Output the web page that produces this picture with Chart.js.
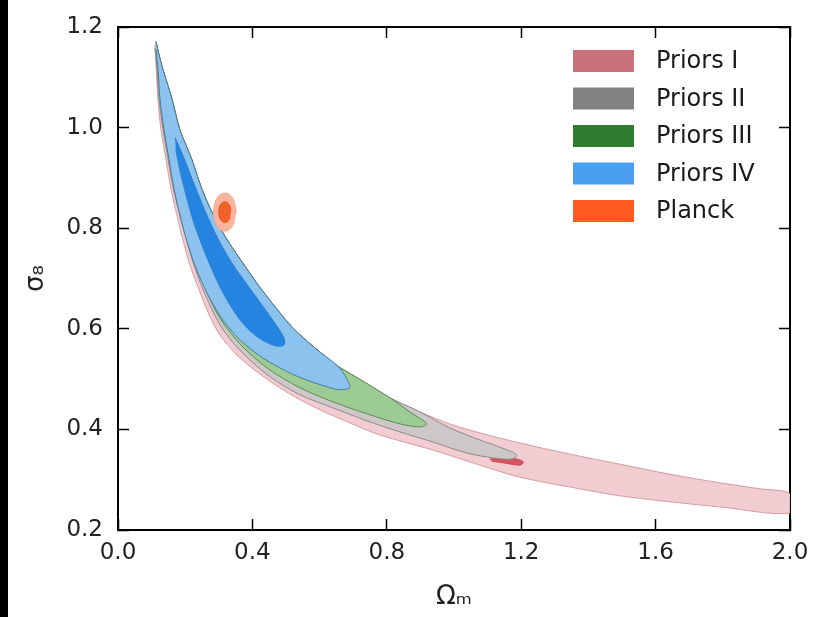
<!DOCTYPE html>
<html>
<head>
<meta charset="utf-8">
<script src="https://cdn.jsdelivr.net/npm/chart.js@4.4.1/dist/chart.umd.min.js"></script>
<style>
  html, body { margin: 0; padding: 0; background: #fff; }
  #wrap { position: relative; width: 814px; height: 617px; }
  #edge { position: absolute; left: 0; top: 0; width: 8px; height: 617px; background: #000; }
</style>
</head>
<body>
<div id="wrap">
  <canvas id="contourChart" width="814" height="617"></canvas>
  <div id="edge"></div>
</div>
<script>
// Eixos
const xTicks = [0.0, 0.4, 0.8, 1.2, 1.6, 2.0];
const xTickLabels = ["0.0", "0.4", "0.8", "1.2", "1.6", "2.0"];
const yTicks = [0.2, 0.4, 0.6, 0.8, 1.0, 1.2];
const yTickLabels = ["0.2", "0.4", "0.6", "0.8", "1.0", "1.2"];

const legendLabels = ["Priors I", "Priors II", "Priors III", "Priors IV", "Planck"];

// Contornos (Omega_m, sigma_8), cada um é um polígono fechado
const priorsIOuterX = [0.113, 0.122, 0.134, 0.161, 0.184, 0.220, 0.250, 0.283, 0.321, 0.369, 0.416, 0.467, 0.520, 0.586, 0.654, 0.726, 0.809, 0.898, 0.987, 1.077, 1.196, 1.344, 1.493, 1.642, 1.790, 1.909, 2.000,
  2.000, 1.790, 1.671, 1.493, 1.374, 1.196, 1.077, 0.937, 0.779, 0.690, 0.601, 0.526, 0.458, 0.399, 0.348, 0.303, 0.271, 0.241, 0.214, 0.193, 0.175, 0.158, 0.143, 0.128, 0.119, 0.113, 0.110];
const priorsIOuterY = [1.171, 1.145, 1.115, 1.056, 0.996, 0.936, 0.877, 0.827, 0.781, 0.733, 0.688, 0.644, 0.602, 0.562, 0.526, 0.497, 0.463, 0.435, 0.411, 0.393, 0.373, 0.351, 0.331, 0.311, 0.294, 0.282, 0.272,
  0.234, 0.246, 0.254, 0.268, 0.282, 0.305, 0.329, 0.359, 0.389, 0.413, 0.439, 0.465, 0.493, 0.522, 0.552, 0.588, 0.628, 0.678, 0.727, 0.777, 0.827, 0.877, 0.936, 0.996, 1.056, 1.129, 1.165];

const priorsIInnerX = [1.106, 1.151, 1.187, 1.207, 1.196, 1.151, 1.112];
const priorsIInnerY = [0.341, 0.343, 0.341, 0.335, 0.329, 0.333, 0.337];

const priorsIIX = [0.113, 0.122, 0.134, 0.161, 0.184, 0.220, 0.250, 0.283, 0.321, 0.369, 0.416, 0.467, 0.520, 0.586, 0.654, 0.726, 0.809, 0.898, 0.987, 1.077, 1.151, 1.187,
  1.172, 1.121, 1.038, 0.937, 0.839, 0.741, 0.639, 0.541, 0.458, 0.399, 0.351, 0.309, 0.277, 0.247, 0.223, 0.202, 0.181, 0.164, 0.149, 0.134, 0.122, 0.116, 0.110];
const priorsIIY = [1.171, 1.145, 1.115, 1.056, 0.996, 0.936, 0.877, 0.827, 0.781, 0.733, 0.688, 0.644, 0.602, 0.562, 0.526, 0.497, 0.463, 0.435, 0.403, 0.379, 0.361, 0.349,
  0.341, 0.343, 0.353, 0.375, 0.395, 0.417, 0.443, 0.469, 0.502, 0.534, 0.566, 0.602, 0.642, 0.688, 0.733, 0.781, 0.833, 0.881, 0.936, 0.996, 1.056, 1.115, 1.159];

const priorsIIIX = [0.113, 0.122, 0.134, 0.161, 0.184, 0.220, 0.250, 0.283, 0.321, 0.369, 0.416, 0.467, 0.520, 0.586, 0.654, 0.726, 0.809, 0.868, 0.919,
  0.898, 0.839, 0.741, 0.639, 0.541, 0.452, 0.387, 0.339, 0.297, 0.265, 0.235, 0.211, 0.190, 0.172, 0.155, 0.140, 0.128, 0.119, 0.113];
const priorsIIIY = [1.171, 1.145, 1.115, 1.056, 0.996, 0.936, 0.877, 0.827, 0.781, 0.733, 0.688, 0.644, 0.602, 0.562, 0.526, 0.497, 0.463, 0.435, 0.411,
  0.405, 0.411, 0.431, 0.455, 0.483, 0.518, 0.554, 0.588, 0.628, 0.672, 0.721, 0.771, 0.821, 0.873, 0.932, 0.992, 1.056, 1.115, 1.155];

const priorsIVOuterX = [0.113, 0.122, 0.134, 0.161, 0.184, 0.220, 0.250, 0.283, 0.321, 0.369, 0.416, 0.467, 0.520, 0.586, 0.654, 0.678, 0.690,
  0.660, 0.630, 0.532, 0.431, 0.363, 0.318, 0.280, 0.250, 0.223, 0.202, 0.184, 0.167, 0.152, 0.137, 0.125, 0.119, 0.113];
const priorsIVOuterY = [1.171, 1.145, 1.115, 1.056, 0.996, 0.936, 0.877, 0.827, 0.781, 0.733, 0.688, 0.644, 0.602, 0.562, 0.526, 0.504, 0.483,
  0.479, 0.483, 0.506, 0.542, 0.578, 0.612, 0.652, 0.692, 0.737, 0.781, 0.827, 0.877, 0.936, 0.996, 1.056, 1.115, 1.155];

const priorsIVInnerX = [0.170, 0.196, 0.227, 0.260, 0.296, 0.337, 0.384, 0.430, 0.470, 0.494, 0.494, 0.470, 0.428, 0.393, 0.363, 0.333, 0.303, 0.274, 0.247, 0.223, 0.202, 0.184, 0.172];
const priorsIVInnerY = [0.980, 0.940, 0.887, 0.833, 0.781, 0.733, 0.688, 0.646, 0.608, 0.582, 0.568, 0.566, 0.578, 0.596, 0.618, 0.648, 0.684, 0.727, 0.771, 0.817, 0.867, 0.916, 0.956];

const planckOuterX = [0.352, 0.347, 0.335, 0.318, 0.301, 0.289, 0.284, 0.289, 0.301, 0.318, 0.335, 0.347];
const planckOuterY = [0.832, 0.851, 0.865, 0.870, 0.865, 0.851, 0.832, 0.813, 0.799, 0.794, 0.799, 0.813];
const planckInnerX = [0.336, 0.334, 0.327, 0.318, 0.309, 0.302, 0.300, 0.302, 0.309, 0.318, 0.327, 0.334];
const planckInnerY = [0.832, 0.843, 0.850, 0.853, 0.850, 0.843, 0.832, 0.822, 0.814, 0.811, 0.814, 0.822];

const legendColors = ["#c8727a", "#828282", "#2f7d2f", "#4b9ff2", "#ff5b1f"];

function toPoints(xs, ys) {
  return xs.map((x, i) => ({ x: x, y: ys[i] }));
}

function contour(label, xs, ys, fillColor, lineColor, order) {
  return {
    label: label,
    data: toPoints(xs, ys),
    backgroundColor: fillColor,
    borderColor: lineColor,
    borderWidth: 1,
    pointRadius: 0,
    tension: 0.3,
    fill: "shape",
    order: order
  };
}

// Legenda no canto superior direito, dentro do gráfico
const cornerLegend = {
  id: "cornerLegend",
  afterDraw(chart) {
    const { ctx, chartArea } = chart;
    ctx.save();
    ctx.font = "24px 'DejaVu Sans'";
    ctx.textBaseline = "middle";
    ctx.textAlign = "left";
    legendLabels.forEach((label, i) => {
      const cy = chartArea.top + 34 + i * 37.5;
      ctx.fillStyle = legendColors[i];
      ctx.fillRect(chartArea.left + 455, cy - 11, 61, 22);
      ctx.fillStyle = "#1a1a1a";
      ctx.fillText(label, chartArea.left + 538, cy + 1);
    });
    ctx.restore();
  }
};

// Sem margem extra dos rótulos: a área do gráfico fica fixa pelo layout.padding
function noLabelPadding(s) {
  s.paddingTop = 0;
  s.paddingBottom = 0;
  s.paddingLeft = 0;
  s.paddingRight = 0;
}

const tickFont = { family: "'DejaVu Sans'", size: 23 };
const frame = { display: true, color: "#000", width: 2 };
const inwardGrid = { drawOnChartArea: false, drawTicks: true, tickLength: -11, tickWidth: 1.5, tickColor: "#000" };

const ctx = document.getElementById("contourChart").getContext("2d");
const contourChart = new Chart(ctx, {
  type: "line",
  data: {
    datasets: [
      contour("Priors I", priorsIOuterX, priorsIOuterY, "#f1cdd1", "#d49aa2", 8),
      contour("Priors I (68%)", priorsIInnerX, priorsIInnerY, "#d9545f", "#c8485a", 7),
      contour("Priors II", priorsIIX, priorsIIY, "#cdc7c7", "#8f8a8a", 6),
      contour("Priors III", priorsIIIX, priorsIIIY, "#9dcb94", "#5d8a5a", 5),
      contour("Priors IV", priorsIVOuterX, priorsIVOuterY, "#8cc3ee", "#4f7894", 4),
      contour("Priors IV (68%)", priorsIVInnerX, priorsIVInnerY, "#2584e0", "#2a7fd4", 3),
      contour("Planck", planckOuterX, planckOuterY, "#fbb59d", "#f6a88d", 2),
      contour("Planck (68%)", planckInnerX, planckInnerY, "#f2612a", "#ee5a22", 1)
    ]
  },
  options: {
    responsive: false,
    animation: false,
    events: [],
    layout: { padding: { left: 0, right: 24, top: 27, bottom: 0 } },
    plugins: {
      legend: { display: false },
      tooltip: { enabled: false }
    },
    scales: {
      x: {
        type: "linear",
        position: "bottom",
        min: 0, max: 2,
        z: 1,
        border: frame,
        grid: inwardGrid,
        afterBuildTicks: s => { s.ticks = xTicks.map(v => ({ value: v })); },
        afterFit: s => { s.height = 87; noLabelPadding(s); },
        ticks: {
          padding: 20,
          color: "#222",
          font: tickFont,
          maxRotation: 0,
          callback: (v, i) => xTickLabels[i]
        },
        title: {
          display: true,
          text: "Ωₘ",
          color: "#222",
          font: { family: "'DejaVu Sans'", size: 26 },
          padding: { top: 0, bottom: 4 }
        }
      },
      xTop: {
        type: "linear",
        position: "top",
        min: 0, max: 2,
        z: 1,
        border: frame,
        grid: inwardGrid,
        afterBuildTicks: s => { s.ticks = xTicks.map(v => ({ value: v })); },
        afterFit: s => { s.height = 0; noLabelPadding(s); },
        ticks: { display: false }
      },
      y: {
        type: "linear",
        position: "left",
        min: 0.2, max: 1.2,
        z: 1,
        border: frame,
        grid: inwardGrid,
        afterBuildTicks: s => { s.ticks = yTicks.map(v => ({ value: v })); },
        afterFit: s => { s.width = 118; noLabelPadding(s); },
        ticks: {
          padding: 26,
          color: "#222",
          font: tickFont,
          callback: (v, i) => yTickLabels[i]
        },
        title: {
          display: true,
          text: "σ₈",
          color: "#222",
          font: { family: "'DejaVu Sans'", size: 26 },
          padding: { top: 21, bottom: 0 }
        }
      },
      yRight: {
        type: "linear",
        position: "right",
        min: 0.2, max: 1.2,
        z: 1,
        border: frame,
        grid: inwardGrid,
        afterBuildTicks: s => { s.ticks = yTicks.map(v => ({ value: v })); },
        afterFit: s => { s.width = 0; noLabelPadding(s); },
        ticks: { display: false }
      }
    }
  },
  plugins: [cornerLegend]
});
</script>
</body>
</html>
